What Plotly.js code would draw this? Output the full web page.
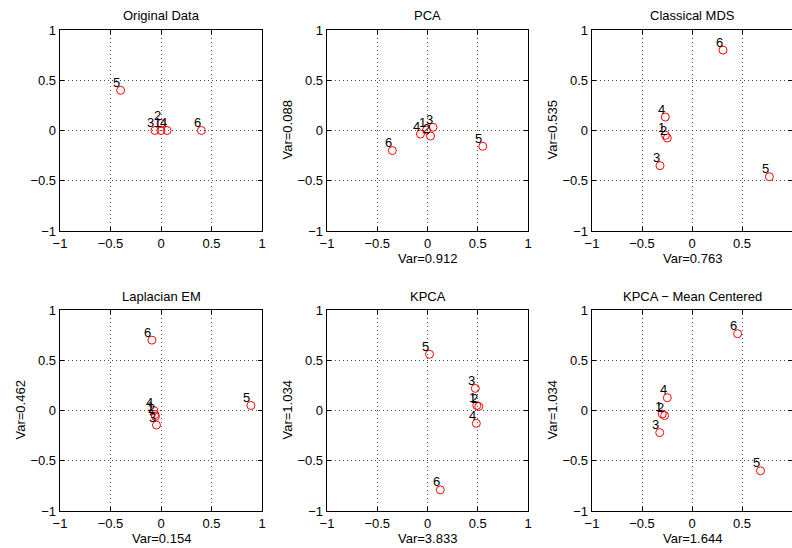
<!DOCTYPE html>
<html>
<head>
<meta charset="utf-8">
<script src="https://cdn.plot.ly/plotly-3.0.1.min.js"></script>
<style>html,body{margin:0;padding:0;background:#fff;}#chart{width:792px;height:548px;}</style>
</head>
<body>
<div id="chart"></div>
<script>
// ---- data ----
const pointLabels = ['1', '2', '3', '4', '5', '6'];
const panelTitles = ['Original Data', 'PCA', 'Classical MDS', 'Laplacian EM', 'KPCA', 'KPCA \u2212 Mean Centered'];
const xVarLabels = ['', 'Var=0.912', 'Var=0.763', 'Var=0.154', 'Var=3.833', 'Var=1.644'];
const yVarLabels = ['', 'Var=0.088', 'Var=0.535', 'Var=0.462', 'Var=1.034', 'Var=1.034'];
const tickValues = [-1, -0.5, 0, 0.5, 1];
const tickLabels = ['\u22121', '\u22120.5', '0', '0.5', '1'];

const origX = [0, 0, -0.06, 0.06, -0.4, 0.4];
const origY = [0, 0.07, 0, 0, 0.4, 0];
const pcaX = [-0.01, 0.03, 0.055, -0.07, 0.55, -0.35];
const pcaY = [0.005, -0.055, 0.032, -0.035, -0.157, -0.2];
const mdsX = [-0.265, -0.247, -0.32, -0.267, 0.774, 0.31];
const mdsY = [-0.048, -0.075, -0.35, 0.134, -0.46, 0.80];
const lemX = [-0.06, -0.055, -0.045, -0.07, 0.89, -0.09];
const lemY = [-0.04, -0.06, -0.145, 0.0, 0.05, 0.70];
const kpcaX = [0.49, 0.51, 0.476, 0.486, 0.02, 0.127];
const kpcaY = [0.05, 0.04, 0.22, -0.128, 0.56, -0.79];
const kpcamcX = [-0.297, -0.274, -0.323, -0.247, 0.685, 0.456];
const kpcamcY = [-0.035, -0.05, -0.22, 0.127, -0.6, 0.764];

const panelsX = [origX, pcaX, mdsX, lemX, kpcaX, kpcamcX];
const panelsY = [origY, pcaY, mdsY, lemY, kpcaY, kpcamcY];

// ---- layout geometry ----
const W = 792, H = 548;
const colPx = [[60, 262], [327, 528], [592, 793]];
const rowPx = [[30, 231], [310, 511]];
const FONT = 'Liberation Sans, Arial, Helvetica, sans-serif';

const traces = [];
const annotations = [];
const layout = {
  width: W, height: H,
  margin: {l: 0, r: 0, t: 0, b: 0, pad: 0},
  paper_bgcolor: '#fff', plot_bgcolor: '#fff',
  showlegend: false,
  font: {family: FONT, size: 13, color: '#000'}
};

for (let i = 0; i < 6; i++) {
  const r = Math.floor(i / 3), c = i % 3;
  const sfx = i === 0 ? '' : String(i + 1);
  const xd = [colPx[c][0] / W, Math.min(1, colPx[c][1] / W)];
  const yd = [1 - rowPx[r][1] / H, 1 - rowPx[r][0] / H];
  const axCommon = {
    range: [-1, 1], tickmode: 'array', tickvals: tickValues, ticktext: tickLabels,
    showline: true, linecolor: '#000', linewidth: 1.3, mirror: 'ticks',
    ticks: 'inside', ticklen: 4, tickcolor: '#000', tickwidth: 1,
    showgrid: true, gridcolor: 'rgba(0,0,0,0.7)', gridwidth: 1, griddash: '1px,3px',
    zeroline: false, fixedrange: true,
    tickfont: {family: FONT, size: 13, color: '#000'}
  };
  layout['xaxis' + sfx] = Object.assign({}, axCommon, {domain: xd, anchor: 'y' + sfx});
  layout['yaxis' + sfx] = Object.assign({}, axCommon, {domain: yd, anchor: 'x' + sfx});

  traces.push({
    type: 'scatter', mode: 'markers',
    x: panelsX[i], y: panelsY[i],
    xaxis: 'x' + sfx, yaxis: 'y' + sfx,
    marker: {symbol: 'circle-open', size: 8, color: '#ff0000', line: {width: 1, color: '#ff0000'}},
    cliponaxis: false, hoverinfo: 'skip'
  });

  for (let k = 0; k < pointLabels.length; k++) {
    annotations.push({
      xref: 'x' + sfx, yref: 'y' + sfx,
      x: panelsX[i][k], y: panelsY[i][k],
      text: pointLabels[k], showarrow: false,
      xanchor: 'center', yanchor: 'middle', xshift: -4, yshift: 8,
      font: {family: FONT, size: 13, color: '#000'}
    });
  }

  const xcPx = (colPx[c][0] + colPx[c][1]) / 2 / W;
  annotations.push({
    xref: 'paper', yref: 'paper', x: xcPx, y: yd[1],
    text: panelTitles[i], showarrow: false,
    xanchor: 'center', yanchor: 'middle', yshift: 14,
    font: {family: FONT, size: 13, color: '#000'}
  });
  if (xVarLabels[i]) {
    annotations.push({
      xref: 'paper', yref: 'paper', x: xcPx, y: yd[0],
      text: xVarLabels[i], showarrow: false,
      xanchor: 'center', yanchor: 'middle', yshift: -27,
      font: {family: FONT, size: 13, color: '#000'}
    });
  }
  if (yVarLabels[i]) {
    annotations.push({
      xref: 'paper', yref: 'paper', x: xd[0], y: (yd[0] + yd[1]) / 2,
      text: yVarLabels[i], showarrow: false, textangle: -90,
      xanchor: 'center', yanchor: 'middle', xshift: -40,
      font: {family: FONT, size: 13, color: '#000'}
    });
  }
}
layout.annotations = annotations;

Plotly.newPlot('chart', traces, layout, {displayModeBar: false, staticPlot: true});
</script>
</body>
</html>
